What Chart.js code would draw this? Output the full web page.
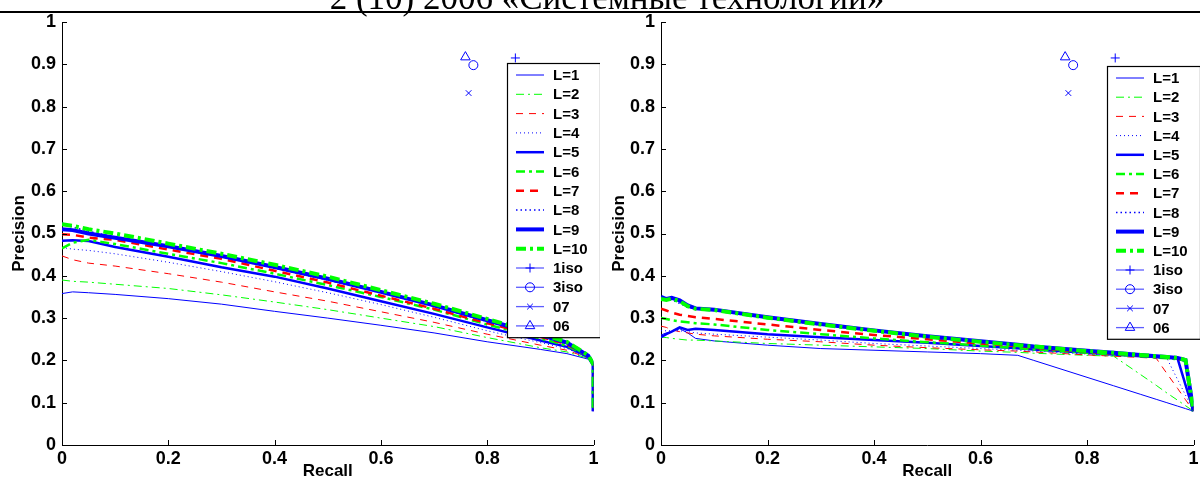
<!DOCTYPE html>
<html>
<head>
<meta charset="utf-8">
<script src="https://cdn.jsdelivr.net/npm/chart.js@4.4.1/dist/chart.umd.min.js"></script>
<style>
body{margin:0;background:#fff;width:1200px;height:489px;overflow:hidden;position:relative}
#hdr{position:absolute;left:0;top:-20px;width:1200px;text-align:center;font:35px "Liberation Serif","Times New Roman",serif;line-height:35px;padding-left:14px;box-sizing:border-box;white-space:nowrap}
#rule{position:absolute;left:0;top:11px;width:1200px;height:2px;background:#000}
.pane{position:absolute;top:0;width:600px;height:489px}
</style>
</head>
<body>
<canvas id="cLeft" class="pane" style="left:0" width="600" height="489"></canvas>
<canvas id="cRight" class="pane" style="left:600px" width="600" height="489"></canvas>
<div id="hdr">2 (10) 2006 «Системные технологии»</div>
<div id="rule"></div>
<script>
// ---- data ----
var seriesLabels = ['L=1', 'L=2', 'L=3', 'L=4', 'L=5', 'L=6', 'L=7', 'L=8', 'L=9', 'L=10'];
var xTickValues = [0, 0.2, 0.4, 0.6, 0.8, 1];
var yTickValues = [0, 0.1, 0.2, 0.3, 0.4, 0.5, 0.6, 0.7, 0.8, 0.9, 1];

// left panel
var leftRecall = [0, 0.02, 0.05, 0.1, 0.2, 0.3, 0.4, 0.5, 0.6, 0.7, 0.8, 0.9, 0.95, 0.99, 1.0, 1.0];
var leftL1  = [0.358, 0.362, 0.360, 0.356, 0.346, 0.333, 0.316, 0.300, 0.283, 0.265, 0.244, 0.226, 0.216, 0.203, 0.19, 0.08];
var leftL2  = [0.390, 0.387, 0.385, 0.380, 0.370, 0.355, 0.338, 0.320, 0.300, 0.280, 0.254, 0.230, 0.220, 0.205, 0.19, 0.08];
var leftL3  = [0.447, 0.438, 0.430, 0.423, 0.405, 0.385, 0.362, 0.340, 0.315, 0.290, 0.262, 0.236, 0.224, 0.206, 0.19, 0.08];
var leftL4  = [0.467, 0.463, 0.460, 0.452, 0.432, 0.410, 0.386, 0.360, 0.332, 0.302, 0.270, 0.242, 0.228, 0.207, 0.19, 0.08];
var leftL5  = [0.483, 0.484, 0.482, 0.468, 0.445, 0.420, 0.398, 0.370, 0.340, 0.310, 0.278, 0.247, 0.232, 0.208, 0.19, 0.08];
var leftL6  = [0.465, 0.478, 0.485, 0.475, 0.452, 0.430, 0.405, 0.378, 0.350, 0.320, 0.285, 0.252, 0.235, 0.209, 0.19, 0.08];
var leftL7  = [0.498, 0.497, 0.490, 0.485, 0.462, 0.440, 0.412, 0.384, 0.353, 0.322, 0.288, 0.256, 0.238, 0.210, 0.19, 0.08];
var leftL8  = [0.525, 0.515, 0.505, 0.492, 0.468, 0.445, 0.418, 0.390, 0.360, 0.328, 0.292, 0.258, 0.240, 0.210, 0.19, 0.08];
var leftL9  = [0.510, 0.508, 0.500, 0.490, 0.470, 0.447, 0.421, 0.393, 0.362, 0.330, 0.295, 0.260, 0.242, 0.211, 0.19, 0.08];
var leftL10 = [0.522, 0.518, 0.510, 0.500, 0.476, 0.452, 0.426, 0.398, 0.366, 0.334, 0.298, 0.262, 0.244, 0.212, 0.19, 0.08];

// right panel
var rightRecall = [0, 0.01, 0.02, 0.035, 0.05, 0.065, 0.1, 0.2, 0.3, 0.4, 0.5, 0.6, 0.67, 0.7, 0.8, 0.85, 0.9, 0.93, 0.95, 0.97, 0.985, 1.0];
var rightL1  = [0.260, 0.265, 0.268, 0.275, 0.265, 0.252, 0.246, 0.236, 0.228, 0.224, 0.220, 0.216, 0.212, 0.200, 0.160, 0.140, 0.120, 0.108, 0.100, 0.092, 0.086, 0.08];
var rightL2  = [0.255, 0.254, 0.252, 0.250, 0.248, 0.248, 0.246, 0.240, 0.236, 0.232, 0.228, 0.222, 0.219, 0.217, 0.212, 0.210, 0.167, 0.141, 0.123, 0.106, 0.093, 0.08];
var rightL3  = [0.281, 0.278, 0.272, 0.268, 0.265, 0.262, 0.258, 0.250, 0.244, 0.236, 0.230, 0.225, 0.222, 0.220, 0.213, 0.210, 0.207, 0.205, 0.169, 0.134, 0.107, 0.08];
var rightL4  = [0.270, 0.270, 0.270, 0.270, 0.268, 0.265, 0.262, 0.255, 0.248, 0.240, 0.234, 0.228, 0.224, 0.222, 0.215, 0.212, 0.209, 0.207, 0.205, 0.155, 0.118, 0.08];
var rightL5  = [0.255, 0.262, 0.268, 0.278, 0.272, 0.275, 0.272, 0.262, 0.255, 0.248, 0.242, 0.234, 0.229, 0.226, 0.218, 0.214, 0.210, 0.208, 0.206, 0.205, 0.142, 0.08];
var rightL6  = [0.300, 0.298, 0.295, 0.292, 0.290, 0.288, 0.285, 0.272, 0.262, 0.252, 0.243, 0.235, 0.229, 0.226, 0.218, 0.214, 0.210, 0.207, 0.205, 0.203, 0.200, 0.08];
var rightL7  = [0.322, 0.318, 0.313, 0.308, 0.305, 0.302, 0.298, 0.285, 0.272, 0.260, 0.250, 0.240, 0.234, 0.230, 0.220, 0.216, 0.211, 0.208, 0.206, 0.204, 0.200, 0.08];
var rightL8  = [0.345, 0.342, 0.343, 0.335, 0.325, 0.322, 0.318, 0.300, 0.284, 0.269, 0.255, 0.243, 0.236, 0.232, 0.222, 0.217, 0.212, 0.209, 0.207, 0.205, 0.200, 0.08];
var rightL9  = [0.350, 0.345, 0.348, 0.342, 0.330, 0.323, 0.320, 0.302, 0.286, 0.271, 0.257, 0.245, 0.237, 0.233, 0.223, 0.218, 0.213, 0.210, 0.208, 0.206, 0.201, 0.08];
var rightL10 = [0.345, 0.343, 0.346, 0.340, 0.328, 0.322, 0.319, 0.301, 0.285, 0.270, 0.256, 0.244, 0.236, 0.233, 0.222, 0.218, 0.213, 0.210, 0.208, 0.206, 0.201, 0.08];

// single points (same in both panels)
var isoLabels = ['1iso', '3iso', '07', '06'];
var isoRecall = [0.853, 0.774, 0.765, 0.759];
var isoPrecision = [0.915, 0.898, 0.832, 0.917];

// ---- styles ----
var BLUE = '#0000ff', GREEN = '#00ff00', RED = '#ff0000';
var lineStyles = [
    {color: BLUE,  width: 1,   dash: []},
    {color: GREEN, width: 1,   dash: [8, 4, 2, 4]},
    {color: RED,   width: 1,   dash: [7, 6]},
    {color: BLUE,  width: 1,   dash: [1, 3]},
    {color: BLUE,  width: 2.5, dash: []},
    {color: GREEN, width: 2.5, dash: [9, 4, 3, 4]},
    {color: RED,   width: 2.5, dash: [8, 6]},
    {color: BLUE,  width: 1.5, dash: [1.5, 3]},
    {color: BLUE,  width: 4,   dash: []},
    {color: GREEN, width: 4,   dash: [10, 4, 3, 4]}
];
var markerStyles = ['cross', 'circle', 'crossRot', 'triangle'];
var markerRadius = [4.5, 4.5, 4, 5.5];

Chart.defaults.color = '#000';
Chart.defaults.font.family = '"Liberation Sans", Arial, sans-serif';

function makeSets(recall, values) {
    var sets = values.map(function (v, i) {
        var st = lineStyles[i];
        return {
            label: seriesLabels[i],
            data: recall.map(function (r, k) { return {x: r, y: v[k]}; }),
            showLine: true,
            borderColor: st.color,
            borderWidth: st.width,
            borderDash: st.dash,
            pointRadius: 0,
            fill: false,
            tension: 0,
            order: 20 - i
        };
    });
    isoLabels.forEach(function (lab, i) {
        sets.push({
            label: lab,
            data: [{x: isoRecall[i], y: isoPrecision[i]}],
            showLine: false,
            pointStyle: markerStyles[i],
            pointRadius: markerRadius[i],
            borderColor: BLUE,
            backgroundColor: 'rgba(0,0,0,0)',
            pointBorderWidth: 1,
            order: 0
        });
    });
    return sets;
}

function tickText(v) {
    return String(Math.round(v * 10) / 10);
}

// MATLAB style ticks pointing into the axes
var innerTicks = {
    id: 'innerTicks',
    afterDatasetsDraw: function (chart) {
        var ctx = chart.ctx, a = chart.chartArea;
        var xs = chart.scales.x, ys = chart.scales.y;
        ctx.save();
        ctx.strokeStyle = '#000';
        ctx.lineWidth = 1;
        ctx.beginPath();
        xs.ticks.forEach(function (t) {
            var px = Math.round(xs.getPixelForValue(t.value)) + 0.5;
            ctx.moveTo(px, a.bottom);
            ctx.lineTo(px, a.bottom - 5);
        });
        ys.ticks.forEach(function (t) {
            var py = Math.round(ys.getPixelForValue(t.value)) + 0.5;
            ctx.moveTo(a.left, py);
            ctx.lineTo(a.left + 5, py);
        });
        ctx.stroke();
        ctx.restore();
    }
};

// boxed legend inside the axes, top right
var boxLegend = {
    id: 'boxLegend',
    afterDraw: function (chart, args, opts) {
        var ctx = chart.ctx;
        var sets = chart.data.datasets;
        var bx = opts.left, by = opts.top, bw = opts.width, rh = opts.rowHeight;
        var bh = rh * sets.length + 4;
        ctx.save();
        ctx.fillStyle = '#fff';
        ctx.fillRect(bx, by, bw, bh);
        ctx.strokeStyle = '#000';
        ctx.lineWidth = 1.2;
        ctx.strokeRect(bx + 0.5, by + 0.5, bw, bh);
        ctx.font = 'bold 15px "Liberation Sans", Arial, sans-serif';
        ctx.textBaseline = 'middle';
        sets.forEach(function (ds, i) {
            var cy = by + 12 + i * rh;
            var x0 = bx + 9, x1 = bx + 37;
            ctx.save();
            if (ds.showLine) {
                ctx.strokeStyle = ds.borderColor;
                ctx.lineWidth = ds.borderWidth;
                ctx.setLineDash(ds.borderDash);
            } else {
                ctx.strokeStyle = 'rgba(40,40,255,0.75)';
                ctx.lineWidth = 1.3;
            }
            ctx.beginPath();
            ctx.moveTo(x0, cy);
            ctx.lineTo(x1, cy);
            ctx.stroke();
            ctx.restore();
            if (!ds.showLine) {
                ctx.save();
                ctx.strokeStyle = BLUE;
                ctx.fillStyle = 'rgba(0,0,0,0)';
                ctx.lineWidth = 1;
                Chart.helpers.drawPoint(ctx, {pointStyle: ds.pointStyle, radius: ds.pointRadius, borderWidth: 1, rotation: 0}, (x0 + x1) / 2, cy);
                ctx.restore();
            }
            ctx.fillStyle = '#000';
            ctx.fillText(ds.label, bx + 46, cy + 1);
        });
        ctx.restore();
    }
};

function makeChart(id, recall, values, yWidth, padRight, legendOpts) {
    var ctx = document.getElementById(id).getContext('2d');
    return new Chart(ctx, {
        type: 'scatter',
        data: {datasets: makeSets(recall, values)},
        plugins: [innerTicks, boxLegend],
        options: {
            responsive: false,
            animation: false,
            layout: {padding: {top: 22, right: padRight, left: 0, bottom: 0}},
            plugins: {
                legend: {display: false},
                tooltip: {enabled: false},
                boxLegend: legendOpts
            },
            scales: {
                x: {
                    type: 'linear', min: 0, max: 1,
                    afterBuildTicks: function (s) { s.ticks = xTickValues.map(function (v) { return {value: v}; }); },
                    grid: {display: false, drawTicks: false},
                    border: {display: true, color: '#000', width: 1},
                    ticks: {font: {size: 18, weight: 'bold'}, padding: 3, maxRotation: 0, autoSkip: false, callback: tickText},
                    title: {display: true, text: 'Recall', font: {size: 17, weight: 'bold'}, padding: {top: 0, bottom: 7}},
                    afterFit: function (s) { s.height = 44; s.paddingLeft = 0; s.paddingRight = 0; }
                },
                y: {
                    type: 'linear', min: 0, max: 1,
                    afterBuildTicks: function (s) { s.ticks = yTickValues.map(function (v) { return {value: v}; }); },
                    grid: {display: false, drawTicks: false},
                    border: {display: true, color: '#000', width: 1},
                    ticks: {font: {size: 18, weight: 'bold'}, padding: 6, autoSkip: false, callback: tickText},
                    title: {display: true, text: 'Precision', font: {size: 17, weight: 'bold'}, padding: {top: 9, bottom: 0}},
                    afterFit: function (s) { s.width = yWidth; s.paddingTop = 0; s.paddingBottom = 0; }
                }
            }
        }
    });
}

makeChart('cLeft', leftRecall,
    [leftL1, leftL2, leftL3, leftL4, leftL5, leftL6, leftL7, leftL8, leftL9, leftL10],
    62, 2, {left: 507, top: 63, width: 93, rowHeight: 19.3});
makeChart('cRight', rightRecall,
    [rightL1, rightL2, rightL3, rightL4, rightL5, rightL6, rightL7, rightL8, rightL9, rightL10],
    61, 3, {left: 507, top: 66, width: 93, rowHeight: 19.2});
</script>
</body>
</html>
